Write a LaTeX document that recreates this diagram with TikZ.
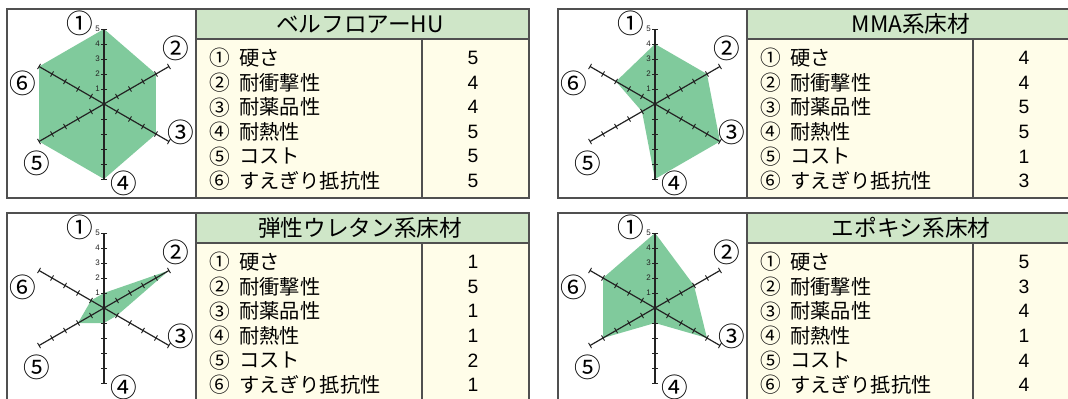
\documentclass[tikz,border=0pt]{standalone}
\usepackage{fontspec}
\setmainfont{Liberation Sans}
\newfontfamily\jp{Noto Sans CJK JP}
\usetikzlibrary{calc}
\definecolor{fillg}{RGB}{128,202,156}
\definecolor{headg}{RGB}{207,230,200}
\definecolor{cream}{RGB}{255,253,233}
\definecolor{frame}{RGB}{80,80,80}
\definecolor{axis}{RGB}{35,35,35}
\tikzset{
  panelframe/.style={draw=frame, line width=1.1pt},
  tableline/.style={draw=frame, line width=0.9pt},
  axisline/.style={draw=axis, line width=0.9pt},
  tickline/.style={draw=axis, line width=0.7pt},
  ticklabel/.style={font=\fontsize{6}{6}\selectfont, text=axis, inner sep=0pt, anchor=east},
  chartnum/.style={font=\jp\fontsize{20}{20}\selectfont, inner sep=0pt},
  rownum/.style={font=\jp\fontsize{15.5}{16}\selectfont, inner sep=0pt},
  rowtext/.style={font=\jp\fontsize{15.2}{16}\selectfont, inner sep=0pt, anchor=west},
  rowval/.style={font=\fontsize{14.5}{15}\selectfont, inner sep=0pt},
  titletext/.style={font=\jp\fontsize{17}{18}\selectfont, inner sep=0pt},
}
\newcommand\radarpanel[5]{%
\begin{scope}[shift={(#1,#2)}]
  \coordinate (#3c) at (104,104);
  % polygon
  \foreach \v [count=\i] in {#5} {
    \coordinate (#3p\i) at ($(#3c)+({60*(\i-1)-90}:{15*\v})$);
  }
  \fill[fillg] (#3p1) -- (#3p2) -- (#3p3) -- (#3p4) -- (#3p5) -- (#3p6) -- cycle;
  % axes
  \foreach \a in {-90,-30,30,90,150,210} {
    \draw[axisline] (#3c) -- ($(#3c)+(\a:75)$);
    \foreach \k in {1,...,5} {
      \draw[tickline] ($(#3c)+(\a:{15*\k})+(\a+90:3)$) -- ($(#3c)+(\a:{15*\k})+(\a-90:3)$);
    }
  }
  \foreach \k in {1,...,5} {
    \node[ticklabel] (#3t\k) at ($(#3c)+(-4,{-15*\k})$) {\k};
  }
  % circled axis labels
  \node[chartnum] (#3a1) at ($(#3c)+(-24,-81)$) {①};
  \node[chartnum] (#3a2) at ($(#3c)+(72,-56)$) {②};
  \node[chartnum] (#3a3) at ($(#3c)+(77,28)$) {③};
  \node[chartnum] (#3a4) at ($(#3c)+(20,79)$) {④};
  \node[chartnum] (#3a5) at ($(#3c)+(-67,59)$) {⑤};
  \node[chartnum] (#3a6) at ($(#3c)+(-81,-21)$) {⑥};
  % table
  \fill[headg] (196,9) rectangle (529,39);
  \fill[cream] (196,39) rectangle (529,198);
  \draw[tableline] (196,39) -- (529,39);
  \draw[tableline] (422,39) -- (422,198);
  \draw[tableline] (196,9) -- (196,198);
  \draw[panelframe] (7,9) rectangle (529,198);
  \node[titletext] (#3title) at (360,24) {#4};
  \foreach \c/\t [count=\i] in {①/硬さ,②/耐衝撃性,③/耐薬品性,④/耐熱性,⑤/コスト,⑥/すえぎり抵抗性} {
    \node[rownum] (#3n\i) at (219.5,{58+24.6*(\i-1)}) {\c};
    \node[rowtext] (#3r\i) at (239,{58+24.6*(\i-1)}) {\t};
  }
  \foreach \v [count=\i] in {#5} {
    \node[rowval] (#3v\i) at (473,{58+24.6*(\i-1)}) {\v};
  }
\end{scope}}
\begin{document}
\begin{tikzpicture}[x=0.75pt,y=-0.75pt]
\useasboundingbox (0,0) rectangle (1068,399);
\clip (0,0) rectangle (1068,399);
\fill[white] (0,0) rectangle (1068,399);
\radarpanel{0}{0}{A}{{\jp ベルフロアー}HU}{5,4,4,5,5,5}
\radarpanel{551}{0}{B}{MMA{\jp 系床材}}{4,4,5,5,1,3}
\radarpanel{0}{204}{C}{弾性ウレタン系床材}{1,5,1,1,2,1}
\radarpanel{551}{204}{D}{エポキシ系床材}{5,3,4,1,4,4}
\end{tikzpicture}
\end{document}
